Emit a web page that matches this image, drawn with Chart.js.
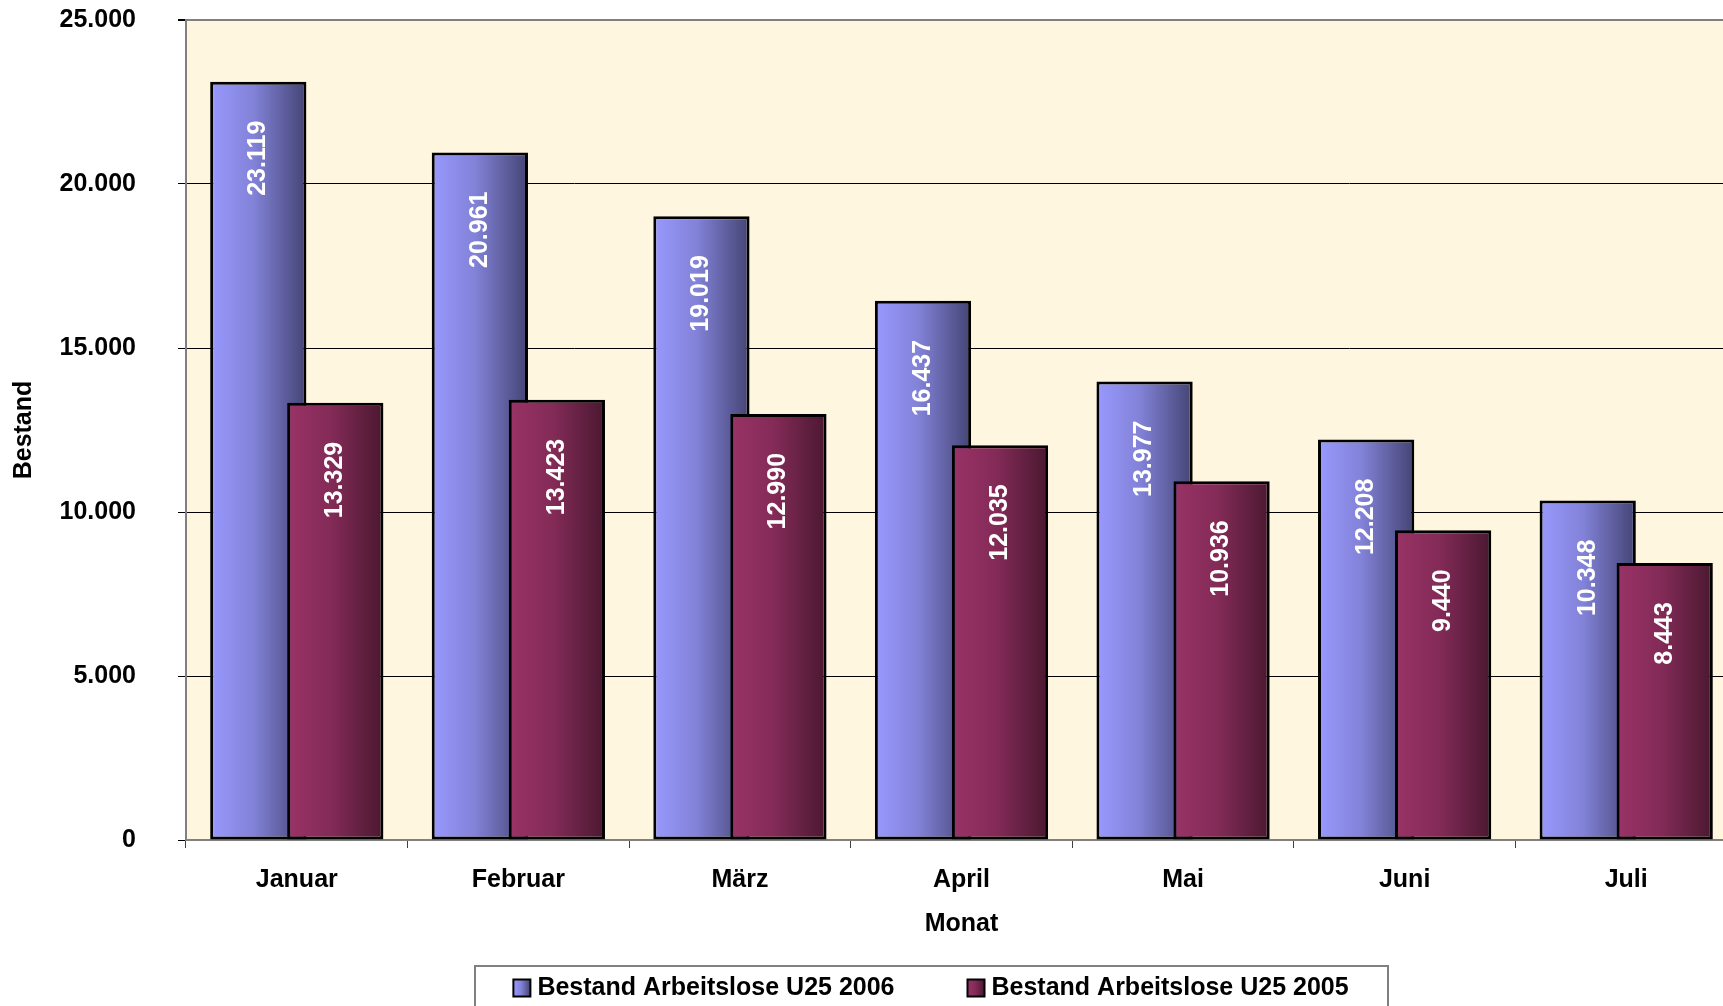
<!DOCTYPE html>
<html>
<head>
<meta charset="utf-8">
<script src="https://cdn.jsdelivr.net/npm/chart.js@4/dist/chart.umd.min.js"></script>
<style>
  html, body { margin: 0; padding: 0; background: #ffffff; overflow: hidden; }
  #wrap { width: 1737px; height: 1006px; }
</style>
</head>
<body>
<div id="wrap"><canvas id="c" width="1737" height="1006"></canvas></div>
<script>
const categories = ['Januar', 'Februar', 'März', 'April', 'Mai', 'Juni', 'Juli'];
const series2006 = [23119, 20961, 19019, 16437, 13977, 12208, 10348];
const series2005 = [13329, 13423, 12990, 12035, 10936, 9440, 8443];
const seriesNames = ['Bestand Arbeitslose U25 2006', 'Bestand Arbeitslose U25 2005'];
const yTicks = [0, 5000, 10000, 15000, 20000, 25000];

const FONT = 'Liberation Sans, Arial, sans-serif';
Chart.defaults.font.family = FONT;
Chart.defaults.font.size = 25;
Chart.defaults.font.weight = 'bold';
Chart.defaults.color = '#000000';

function fmt(v) {
  const s = String(Math.round(v));
  return s.replace(/\B(?=(\d{3})+(?!\d))/g, '.');
}

const gradStops = [
  ['#9999ff', '#8282d8', '#444474'],
  ['#993366', '#842b58', '#4a1830']
];

function makeGrad(ctx, x0, x1, stops) {
  const g = ctx.createLinearGradient(x0, 0, x1, 0);
  g.addColorStop(0, stops[0]);
  g.addColorStop(0.45, stops[1]);
  g.addColorStop(1, stops[2]);
  return g;
}

const plotBg = {
  id: 'plotBg',
  beforeDraw(chart) {
    const {ctx, chartArea: a} = chart;
    ctx.save();
    ctx.fillStyle = '#fff6df';
    ctx.fillRect(a.left, a.top, a.right - a.left, a.bottom - a.top);
    ctx.restore();
  }
};

function drawValueLabels(chart) {
  const ctx = chart.ctx;
  ctx.save();
  ctx.fillStyle = '#ffffff';
  ctx.font = 'bold 25px ' + FONT;
  ctx.textAlign = 'right';
  ctx.textBaseline = 'middle';
  chart.data.datasets.forEach((ds, di) => {
    const meta = chart.getDatasetMeta(di);
    meta.data.forEach((el, i) => {
      ctx.save();
      ctx.translate(el.x, el.y + 39);
      ctx.rotate(-Math.PI / 2);
      ctx.fillText(fmt(ds.data[i]), 0, 0);
      ctx.restore();
    });
  });
  ctx.restore();
}

// Bars with horizontal gradients, drawn in dataset order so the 2005 bar overlaps the 2006 bar
const barDraw = {
  id: 'barDraw',
  beforeDatasetsDraw(chart) {
    const ctx = chart.ctx;
    chart.data.datasets.forEach((ds, di) => {
      const meta = chart.getDatasetMeta(di);
      meta.data.forEach(el => {
        const x0 = el.x - el.width / 2, x1 = el.x + el.width / 2;
        el.options = Object.assign({}, el.options, {backgroundColor: makeGrad(ctx, x0, x1, gradStops[di])});
      });
    });
    for (let di = 0; di < chart.data.datasets.length; di++) {
      chart.getDatasetMeta(di).controller.draw();
    }
    drawValueLabels(chart);
    return false;
  }
};

const boxLegend = {
  id: 'boxLegend',
  afterDraw(chart) {
    const ctx = chart.ctx;
    ctx.save();
    ctx.font = 'bold 25px ' + FONT;
    const widths = chart.data.datasets.map(ds => ctx.measureText(ds.label).width);
    const sw = 17, swGap = 7, itemGap = 73;
    const total = widths.reduce((s, w) => s + sw + swGap + w, 0) + itemGap * (widths.length - 1);
    const cx = 931;
    const boxL = 475, boxR = 1388, boxT = 966;
    ctx.strokeStyle = '#808080';
    ctx.lineWidth = 2;
    ctx.strokeRect(boxL, boxT, boxR - boxL, 80);
    let x = cx - total / 2;
    const yMid = 988;
    chart.data.datasets.forEach((ds, di) => {
      ctx.fillStyle = makeGrad(ctx, x, x + sw, gradStops[di]);
      ctx.fillRect(x, yMid - sw / 2, sw, sw);
      ctx.strokeStyle = '#000000';
      ctx.lineWidth = 2;
      ctx.strokeRect(x, yMid - sw / 2, sw, sw);
      ctx.fillStyle = '#000000';
      ctx.textAlign = 'left';
      ctx.textBaseline = 'middle';
      ctx.fillText(ds.label, x + sw + swGap, yMid);
      x += sw + swGap + widths[di] + itemGap;
    });
    ctx.restore();
  }
};

new Chart(document.getElementById('c'), {
  type: 'bar',
  data: {
    labels: categories,
    datasets: [
      { label: seriesNames[0], data: series2006, backgroundColor: '#9999ff', borderColor: '#000000', borderWidth: 3, borderSkipped: false },
      { label: seriesNames[1], data: series2005, backgroundColor: '#993366', borderColor: '#000000', borderWidth: 3, borderSkipped: false }
    ]
  },
  options: {
    responsive: false,
    animation: false,
    devicePixelRatio: 1,
    categoryPercentage: 0.695,
    barPercentage: 1.25,
    layout: { padding: { top: 20, left: 0, right: 0, bottom: 53 } },
    plugins: {
      legend: { display: false },
      tooltip: { enabled: false },
      title: { display: false }
    },
    scales: {
      x: {
        offset: true,
        afterFit(scale) { scale.height = 113; scale.paddingLeft = 0; scale.paddingRight = 0; },
        grid: { display: true, offset: true, drawOnChartArea: false, drawTicks: true, tickLength: 8, tickColor: '#404040', lineWidth: 1 },
        border: { display: true, color: '#808080', width: 2 },
        ticks: { padding: 17, font: { size: 25, weight: 'bold' }, color: '#000', maxRotation: 0 },
        title: { display: true, text: 'Monat', font: { size: 25, weight: 'bold' }, color: '#000', padding: { top: 13, bottom: 14 } }
      },
      y: {
        min: 0,
        max: 25000,
        afterBuildTicks(scale) { scale.ticks = yTicks.map(v => ({ value: v })); },
        afterFit(scale) { scale.width = 186; scale.paddingTop = 15; scale.paddingBottom = 15; },
        grid: {
          color: ctx => (ctx.tick && ctx.tick.value === 25000) ? '#808080' : '#000000',
          lineWidth: ctx => (ctx.tick && ctx.tick.value === 25000) ? 2 : 1,
          tickColor: '#000000',
          tickLength: 8
        },
        border: { display: true, color: '#808080', width: 2 },
        ticks: { padding: 42, font: { size: 25, weight: 'bold' }, color: '#000', callback: v => fmt(v) },
        title: { display: true, text: 'Bestand', font: { size: 25, weight: 'bold' }, color: '#000', padding: { top: 9, bottom: 20 } }
      }
    }
  },
  plugins: [plotBg, barDraw, boxLegend]
});
</script>
</body>
</html>
